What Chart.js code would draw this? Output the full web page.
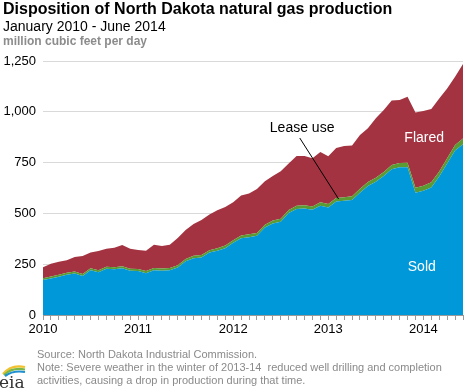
<!DOCTYPE html>
<html>
<head>
<meta charset="utf-8">
<script src="https://cdn.jsdelivr.net/npm/chart.js@4.4.1/dist/chart.umd.min.js"></script>
<style>
  html, body { margin: 0; padding: 0; background: #fff; }
  body { width: 468px; height: 388px; position: relative; overflow: hidden; font-family: "Liberation Sans", Arial, sans-serif; }
  #wrap { position: absolute; left: 0; top: 0; width: 468px; height: 388px; }
  .t { position: absolute; left: 3px; white-space: nowrap; }
  #title { top: 0px; font-size: 16px; font-weight: bold; color: #000; }
  #sub { top: 18px; font-size: 14px; color: #000; }
  #units { top: 34px; font-size: 12px; font-weight: bold; color: #8c8c8c; }
  #foot { position: absolute; left: 37px; top: 348px; font-size: 11px; line-height: 13px; color: #8a8a8a; }
  #logo { position: absolute; left: 0; top: 362px; }
</style>
</head>
<body>
<div id="wrap"><canvas id="c" width="468" height="388"></canvas></div>
<div class="t" id="title">Disposition of North Dakota natural gas production</div>
<div class="t" id="sub">January 2010 - June 2014</div>
<div class="t" id="units">million cubic feet per day</div>
<div id="foot">Source: North Dakota Industrial Commission.<br>Note: Severe weather in the winter of 2013-14&nbsp; reduced well drilling and completion<br>activities, causing a drop in production during that time.</div>
<svg id="logo" width="30" height="26" viewBox="0 0 30 26">
  <path d="M3 12 Q11 2 25 5" stroke="#f2c12e" stroke-width="2.2" fill="none"/>
  <path d="M4 13 Q12 5 25 7.5" stroke="#7ab648" stroke-width="2.2" fill="none"/>
  <path d="M5 14 Q13 8 25 10" stroke="#1f8fd0" stroke-width="2.2" fill="none"/>
  <text x="-1" y="26" font-family="DejaVu Serif, serif" font-size="17" fill="#333">eia</text>
</svg>
<script>
// monthly, Jan 2010 - Jun 2014
const years = [2010, 2011, 2012, 2013, 2014];
const months = [];
years.forEach(y => {
  for (let m = 1; m <= 12; m++) {
    if (y === 2014 && m > 6) break;
    months.push(y + '-' + String(m).padStart(2, '0'));
  }
});

const sold = [
  172, 180, 188, 198, 204, 192, 220, 210, 228, 225, 230, 218,
  216, 206, 220, 218, 220, 234, 264, 279, 283, 307, 316, 329,
  355, 378, 383, 390, 430, 450, 459, 502, 522, 524, 518, 538,
  529, 558, 562, 566, 602, 635, 656, 684, 717, 727, 727, 602,
  612, 628, 681, 746, 809, 840
];
const leaseUse = [
  9, 9, 10, 10, 10, 10, 10, 10, 10, 10, 10, 10,
  10, 10, 11, 11, 11, 11, 12, 12, 12, 12, 13, 13,
  13, 13, 14, 14, 14, 15, 15, 15, 16, 16, 16, 17,
  17, 18, 18, 18, 19, 19, 20, 20, 21, 21, 22, 24,
  24, 25, 25, 26, 27, 28
];
const flared = [
  54, 63, 64, 62, 71, 88, 78, 95, 88, 96, 104, 98,
  94, 100, 115, 111, 115, 134, 142, 157, 172, 176, 186, 190,
  187, 197, 201, 216, 214, 219, 233, 228, 244, 242, 237, 247,
  235, 246, 252, 250, 265, 265, 292, 305, 317, 310, 325, 370,
  368, 361, 360, 343, 337, 367
];
const yTicks = [0, 250, 500, 750, 1000, 1250];

const BLUE = '#0098d8';
const GREEN = '#5c9a33';
const RED = '#a33341';

const labelsPlugin = {
  id: 'labels',
  afterDatasetsDraw(chart) {
    const { ctx, scales: { x, y } } = chart;
    ctx.save();
    ctx.font = '14px "Liberation Sans", Arial, sans-serif';
    ctx.textAlign = 'center';
    ctx.textBaseline = 'middle';
    ctx.fillStyle = '#ffffff';
    ctx.fillText('Flared', x.getPixelForValue(48.1), y.getPixelForValue(871));
    ctx.fillText('Sold', x.getPixelForValue(47.8), y.getPixelForValue(236));
    ctx.strokeStyle = '#000';
    ctx.lineWidth = 1;
    ctx.beginPath();
    ctx.moveTo(x.getPixelForValue(32.4), y.getPixelForValue(871));
    ctx.lineTo(x.getPixelForValue(37.3), y.getPixelForValue(571));
    ctx.stroke();
    ctx.fillStyle = '#000';
    ctx.fillText('Lease use', x.getPixelForValue(32.7), y.getPixelForValue(920));
    ctx.restore();
  }
};

const ctx = document.getElementById('c').getContext('2d');
new Chart(ctx, {
  type: 'line',
  data: {
    labels: months,
    datasets: [
      { label: 'Sold', data: sold, backgroundColor: BLUE, borderWidth: 0, pointRadius: 0, fill: 'origin' },
      { label: 'Lease use', data: leaseUse, backgroundColor: GREEN, borderWidth: 0, pointRadius: 0, fill: '-1' },
      { label: 'Flared', data: flared, backgroundColor: RED, borderWidth: 0, pointRadius: 0, fill: '-1' }
    ]
  },
  options: {
    responsive: false,
    animation: false,
    events: [],
    layout: { padding: { top: 61, right: 5, left: 0, bottom: 0 } },
    elements: { line: { tension: 0 } },
    plugins: { legend: { display: false }, tooltip: { enabled: false } },
    scales: {
      x: {
        offset: false,
        grid: { drawOnChartArea: false, drawTicks: true, tickLength: 5, color: '#9a9a9a' },
        border: { display: true, color: '#9a9a9a' },
        ticks: {
          autoSkip: false,
          maxRotation: 0,
          padding: 2,
          color: '#000',
          font: { family: '"Liberation Sans", Arial, sans-serif', size: 13 },
          callback: (v, i) => months[i].endsWith('-01') ? months[i].slice(0, 4) : ''
        },
        afterFit: s => { s.height = 73; }
      },
      y: {
        stacked: true,
        min: 0,
        max: 1250,
        afterBuildTicks: s => { s.ticks = yTicks.map(v => ({ value: v })); },
        grid: { drawTicks: false, color: '#d9d9d9' },
        border: { display: false },
        ticks: {
          padding: 7,
          color: '#000',
          font: { family: '"Liberation Sans", Arial, sans-serif', size: 13 },
          callback: v => v.toLocaleString('en-US')
        },
        afterFit: s => { s.width = 43; }
      }
    }
  },
  plugins: [labelsPlugin]
});
</script>
</body>
</html>
